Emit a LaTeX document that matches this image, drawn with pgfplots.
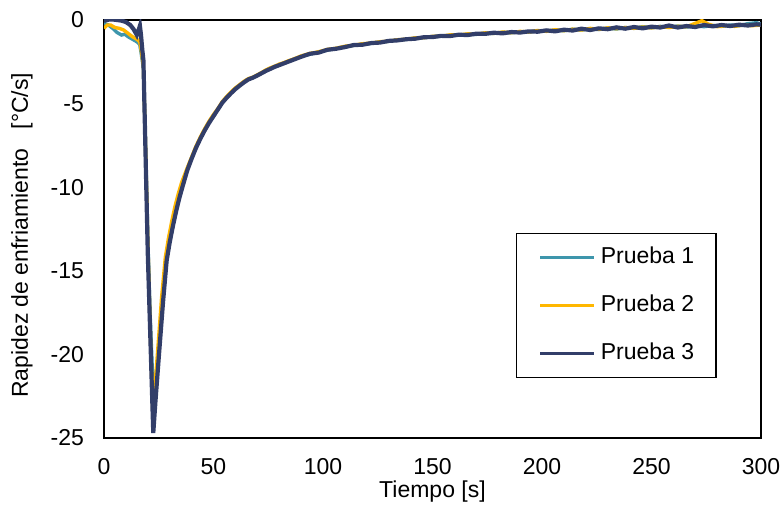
\documentclass[border=0pt]{standalone}
\usepackage{pgfplots}
\pgfplotsset{compat=1.18}
\usepackage{fontspec}
\setmainfont{Liberation Sans}
\definecolor{pteal}{RGB}{62,150,172}
\definecolor{pyellow}{RGB}{255,183,0}
\definecolor{pnavy}{RGB}{50,62,105}
\begin{document}
\begin{tikzpicture}
\path[use as bounding box] (-52pt,-33pt) rectangle (339pt,219pt);
\begin{axis}[
  at={(0,0)}, anchor=south west,
  scale only axis, width=328.5pt, height=209pt,
  xmin=0, xmax=300, ymin=-25, ymax=0,
  xtick={0,50,...,300}, ytick={-25,-20,...,0},
  major tick length=0pt,
  axis line style={line width=0.65pt},
  font=\fontsize{11.5}{13}\selectfont,
  /pgf/number format/assume math mode=true,
  xticklabel style={yshift=-6.5pt},
  yticklabel style={xshift=-6.5pt},
  xlabel={Tiempo [s]},
  ylabel={Rapidez de enfriamiento\ \ \ [°C/s]},
  xlabel style={at={(axis description cs:0.5,-0.128)}, anchor=center},
  ylabel style={at={(axis description cs:-0.125,0.485)}, anchor=center},
  legend style={at={(0.627,0.1435)}, anchor=south west, draw=black, line width=0.65pt,
    inner xsep=11pt, inner ysep=6.5pt, row sep=13pt,
    nodes={inner sep=0pt, text height=8.5pt, text depth=2.5pt},
    /tikz/every odd column/.append style={column sep=2.5pt}},
  legend cell align=left,
  legend image code/.code={\draw[#1, line width=1.6pt] (0pt,0pt) -- (27pt,0pt);},
]
\addplot[pteal, line width=1.7pt] coordinates {
(0,-0.2) (2,-0.3) (4,-0.5) (6,-0.75) (8,-0.9) (9.5,-0.85) (11,-1.0) (13,-1.15) (15,-1.3) (16.3,-1.45) (17,-2.0) (18,-2.9) (19,-7.6) (20,-13.0) (21,-17.4) (22.3,-21.7) (22.8,-22.5)
(23.8,-21.2) (25.2,-19.4) (27,-16.6) (28.6,-14.3) (30,-13.25) (31.5,-12.25) (33,-11.35) (34.5,-10.55) (36,-9.85) (38,-8.95) (40,-8.25) (42,-7.62) (44,-7.05) (46,-6.56) (48,-6.12) (50,-5.7) (52,-5.36) (54,-4.92) (56,-4.62) (58,-4.36) (60,-4.1) (62,-3.9) (64,-3.7) (66,-3.53) (68,-3.45) (70,-3.3) (72,-3.17) (74,-3.02) (76,-2.9) (78,-2.78) (80,-2.68) (82,-2.58) (84,-2.48) (86,-2.38) (88,-2.28)
(90,-2.18) (94,-2.05) (98,-1.92) (102,-1.80) (106,-1.70) (110,-1.60) (114,-1.52) (118,-1.45) (122,-1.40) (126,-1.32) (130,-1.28) (134,-1.19) (138,-1.16) (142,-1.09) (146,-1.06) (150,-0.99) (154,-0.97) (158,-0.92) (162,-0.91) (166,-0.85) (170,-0.86) (174,-0.79) (178,-0.80) (182,-0.74) (186,-0.76) (190,-0.70) (194,-0.72) (198,-0.64) (202,-0.67) (206,-0.60) (210,-0.64) (214,-0.55) (218,-0.60) (222,-0.52) (226,-0.57) (230,-0.48) (234,-0.54) (238,-0.45) (242,-0.50) (246,-0.40) (250,-0.47) (254,-0.38) (258,-0.44) (262,-0.36) (266,-0.42) (270,-0.35) (274,-0.40) (278,-0.33) (282,-0.38) (286,-0.30) (290,-0.34) (294,-0.22) (298,-0.16) (300,-0.25)
};
\addlegendentry{Prueba 1}
\addplot[pyellow, line width=1.7pt] coordinates {
(0,-0.5) (1.5,-0.3) (3,-0.3) (5,-0.45) (7,-0.5) (9,-0.6) (11,-0.8) (13,-1.0) (15,-1.15) (16.3,-1.3) (17,-1.8) (18,-2.8) (19,-7.7) (20,-13.2) (21,-18.0) (22.3,-23.5)
(23.2,-22.0) (24.5,-19.8) (26.3,-16.6) (28,-14.2) (29.5,-13.0) (31,-12.0) (32.5,-11.1) (34,-10.35) (35.5,-9.7) (38,-8.85) (40,-8.2) (42,-7.55) (44,-7.0) (46,-6.5) (48,-6.05) (50,-5.65) (52,-5.3) (54,-4.88) (56,-4.58) (58,-4.3) (60,-4.06) (62,-3.86) (64,-3.66) (66,-3.5) (68,-3.42) (70,-3.28) (72,-3.14) (74,-2.98) (76,-2.86) (78,-2.76) (80,-2.64) (82,-2.56) (84,-2.45) (86,-2.36) (88,-2.26)
(90,-2.15) (94,-2.00) (98,-1.90) (102,-1.76) (106,-1.69) (110,-1.57) (114,-1.51) (118,-1.42) (122,-1.38) (126,-1.30) (130,-1.27) (134,-1.18) (138,-1.15) (142,-1.07) (146,-1.06) (150,-0.98) (154,-0.97) (158,-0.89) (162,-0.90) (166,-0.83) (170,-0.85) (174,-0.77) (178,-0.80) (182,-0.72) (186,-0.76) (190,-0.68) (194,-0.72) (198,-0.63) (202,-0.68) (206,-0.58) (210,-0.64) (214,-0.55) (218,-0.60) (222,-0.50) (226,-0.56) (230,-0.47) (234,-0.52) (238,-0.45) (242,-0.50) (246,-0.42) (250,-0.47) (254,-0.40) (258,-0.45) (262,-0.38) (266,-0.40) (270,-0.20) (273,-0.04) (276,-0.25) (280,-0.40) (284,-0.34) (288,-0.38) (292,-0.30) (296,-0.34) (300,-0.30)
};
\addlegendentry{Prueba 2}
\addplot[pnavy, line width=2.1pt] coordinates {
(0,-0.05) (2,0.02) (4,0.03) (6,0.0) (8,-0.04) (10,-0.12) (12,-0.3) (13.5,-0.55) (15,-0.9) (15.8,-0.6) (16.4,-0.35) (16.9,-0.9) (17.5,-1.8) (18,-2.4) (18.5,-5.3) (19,-8.2) (19.5,-11.1) (20,-14) (21,-18.3) (22,-22.6) (22.5,-24.7)
(23.5,-22.8) (25,-20.2) (27,-16.8) (28.6,-14.4) (30,-13.3) (31.5,-12.3) (33,-11.4) (34.5,-10.6) (36,-9.9) (38,-9.0) (40,-8.3) (42,-7.65) (44,-7.1) (46,-6.6) (48,-6.15) (50,-5.75) (52,-5.35) (54,-4.95) (56,-4.65) (58,-4.38) (60,-4.13) (62,-3.92) (64,-3.72) (66,-3.55) (68,-3.45) (70,-3.32) (72,-3.18) (74,-3.04) (76,-2.92) (78,-2.8) (80,-2.7) (82,-2.6) (84,-2.5) (86,-2.4) (88,-2.3)
(90,-2.20) (94,-2.02) (98,-1.95) (102,-1.78) (106,-1.72) (110,-1.62) (114,-1.50) (118,-1.48) (122,-1.38) (126,-1.35) (130,-1.25) (134,-1.22) (138,-1.15) (142,-1.12) (146,-1.03) (150,-1.02) (154,-0.95) (158,-0.96) (162,-0.88) (166,-0.90) (170,-0.82) (174,-0.83) (178,-0.76) (182,-0.80) (186,-0.72) (190,-0.75) (194,-0.68) (198,-0.70) (202,-0.62) (206,-0.68) (210,-0.58) (214,-0.63) (218,-0.52) (222,-0.60) (226,-0.50) (230,-0.55) (234,-0.44) (238,-0.52) (242,-0.42) (246,-0.50) (250,-0.40) (254,-0.45) (258,-0.33) (262,-0.45) (266,-0.36) (270,-0.42) (274,-0.30) (278,-0.38) (282,-0.30) (286,-0.36) (290,-0.28) (294,-0.33) (298,-0.26) (300,-0.28)
};
\addlegendentry{Prueba 3}
\end{axis}
\end{tikzpicture}
\end{document}
